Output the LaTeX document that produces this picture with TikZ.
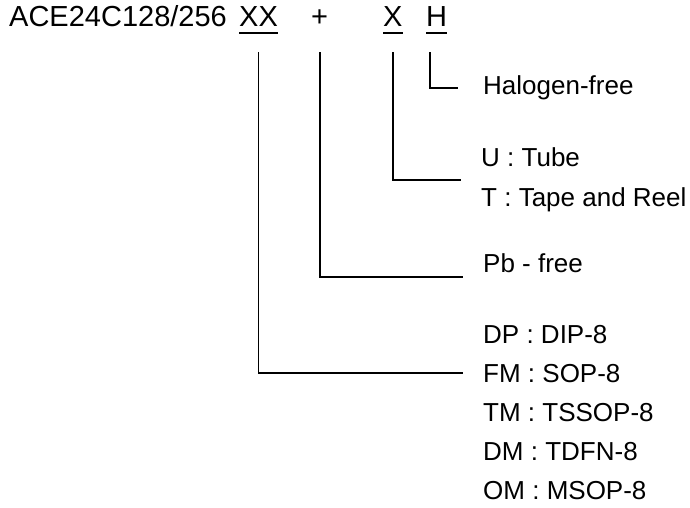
\documentclass[tikz,border=0pt]{standalone}
\usepackage{fontspec}
\setmainfont{Liberation Sans}
\usetikzlibrary{positioning}

\begin{document}
\begin{tikzpicture}[x=1pt,y=-1pt,
    every node/.style={inner sep=0pt,anchor=base west},
    ttl/.style={font=\fontsize{29}{33}\selectfont},
    lbl/.style={font=\fontsize{26}{30}\selectfont},
    lead/.style={line width=1.7pt}]
  \useasboundingbox (0,0) rectangle (690,507);
  % part number
  \node[ttl] (part) at (9,26) {ACE24C128/256};
  \node[ttl] (pkg)  at (239,26) {XX};
  \node[ttl] (plus) at (311,26) {+};
  \node[ttl] (pack) at (383,26) {X};
  \node[ttl] (halo) at (426,26) {H};
  \foreach \n in {pkg,pack,halo}
    \draw[lead] ([yshift=-7pt]\n.base west) -- ([yshift=-7pt]\n.base east);
  % options
  \node[lbl] (hf)   at (483,94)  {Halogen-free};
  \node[lbl] (tube) at (481,166) {U : Tube};
  \node[lbl] (reel) at (481,206) {T : Tape and Reel};
  \node[lbl] (pb)   at (483,272) {Pb - free};
  \foreach \txt [count=\i] in {DP : DIP-8,FM : SOP-8,TM : TSSOP-8,DM : TDFN-8,OM : MSOP-8}
    \node[lbl] (opt\i) at (483,304+39*\i) {\txt};
  % leaders
  \draw[lead] ([xshift=4pt,yshift=-26pt]halo.base west) |- ([xshift=-25pt,yshift=6pt]hf.base west);
  \draw[lead] ([yshift=-26pt]pack.south) |- ([xshift=-20pt,yshift=-14pt]tube.base west);
  \draw[lead] ([yshift=-26pt]plus.south) |- ([xshift=-20pt,yshift=-5pt]pb.base west);
  \draw[lead] ([yshift=-26pt]pkg.south) |- ([xshift=-20pt]opt2.west);
\end{tikzpicture}
\end{document}
